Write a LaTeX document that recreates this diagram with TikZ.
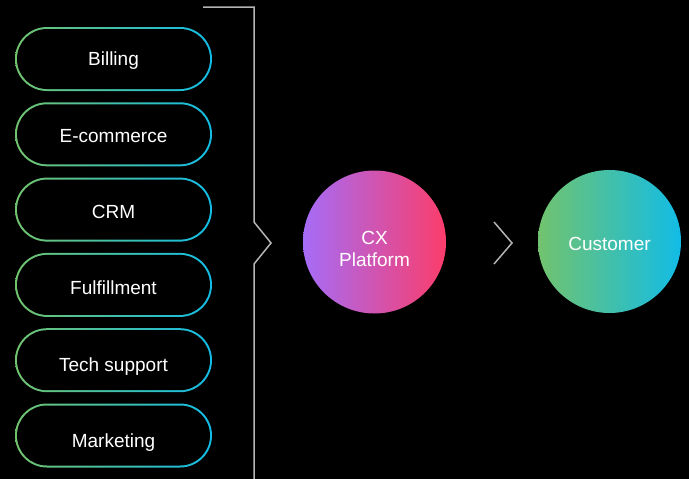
\documentclass[tikz,border=0pt]{standalone}
\usepackage{fontspec}
\setmainfont{Liberation Sans}
\usetikzlibrary{shapes.misc}

\definecolor{pillgreen}{HTML}{72C36E}
\definecolor{pillcyan}{HTML}{12BCE6}
\definecolor{cxpurple}{HTML}{A56CF7}
\definecolor{cxpink}{HTML}{FB3D6B}
\definecolor{linegrey}{HTML}{B4B4B4}

\tikzset{
  ring/.style={rounded rectangle, minimum width=197pt, minimum height=64pt,
    inner sep=0pt, left color=pillgreen, right color=pillcyan},
  pill/.style={rounded rectangle, minimum width=193pt, minimum height=60pt,
    inner sep=0pt, fill=black},
  pilltext/.style={text=white, text height=13.6pt, text depth=0pt,
    font=\fontsize{19}{22}\selectfont},
  bubble/.style={circle, minimum size=143pt, inner sep=0pt},
  bubbletext/.style={text=white, align=center, font=\fontsize{19}{22}\selectfont},
  bracket/.style={draw=linegrey, line width=1.5pt}
}

\begin{document}
\begin{tikzpicture}[x=1pt, y=-1pt]
  \fill[black] (0,0) rectangle (689,479);
  \useasboundingbox (0,0) rectangle (689,479);

  % source systems
  \foreach \name/\lbl [count=\i from 0] in {bill/Billing, ecom/E-commerce, crm/CRM,
      fulfil/Fulfillment, tech/Tech support, mkt/Marketing} {
    \node[ring] (\name-ring) at (113.5,59+75.3*\i) {};
    \node[pill] (\name) at (\name-ring.center) {};
    \node[pilltext] (\name-text) at ([yshift=-\i pt]\name.center) {\lbl};
  }

  % bracket
  \coordinate (brtop) at (203,7);
  \coordinate (brcorner) at (254,7);
  \coordinate (brtip) at (271,243);
  \coordinate (brbottom) at (254,479);
  \draw[bracket] (brtop) -- (brcorner) -- (254,222) -- (brtip) -- (254,264) -- (brbottom);

  % platform and customer
  \node[bubble, left color=cxpurple, right color=cxpink] (cx) at (374.5,242) {};
  \node[bubbletext] (cx-text) at ([yshift=-7pt]cx.center) {CX\\Platform};

  \coordinate (arrtop) at (494,222);
  \coordinate (arrtip) at (512,243);
  \coordinate (arrbottom) at (494,264);
  \draw[bracket] (arrtop) -- (arrtip) -- (arrbottom);

  \node[bubble, left color=pillgreen, right color=pillcyan] (cust) at (609.5,241.5) {};
  \node[bubbletext] (cust-text) at ([yshift=-2pt]cust.center) {Customer};
\end{tikzpicture}
\end{document}
